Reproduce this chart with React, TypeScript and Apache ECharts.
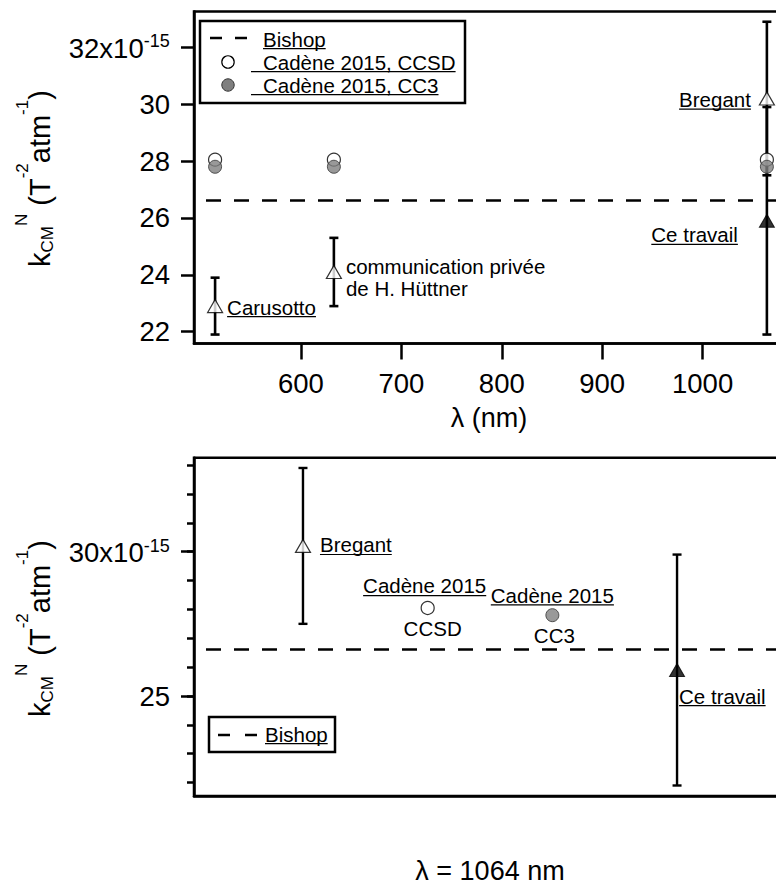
import React, { useEffect, useRef } from 'react';
import * as echarts from 'echarts';

const FONT = '"Liberation Sans", Arial, Helvetica, sans-serif';

// ---------- Top panel : k_CM^N versus wavelength (values in 1e-15 T^-2 atm^-1) ----------
const topXTicks = [600, 700, 800, 900, 1000];
const topYTicks = [22, 24, 26, 28, 30, 32];
const cadeneWavelengths = [514.5, 632.8, 1064];
const cadeneCCSD = [28.05, 28.05, 28.05];
const cadeneCC3 = [27.8, 27.8, 27.8];
// open triangles : Carusotto, Hüttner, Bregant
const openTriWavelengths = [514.5, 632.8, 1064];
const openTriValues = [22.9, 24.1, 30.2];
const openTriErrors = [1.0, 1.2, 2.7];
// filled triangle : Ce travail
const ceTravailWavelengths = [1064];
const ceTravailValues = [25.9];
const ceTravailErrors = [4.0];
const bishopValue = 26.63;
const topLabelTexts = ['Carusotto', 'communication privée\nde H. Hüttner', 'Bregant', 'Ce travail'];

// ---------- Bottom panel : λ = 1064 nm ----------
const bottomNames = ['Bregant', 'Cadène 2015 CCSD', 'Cadène 2015 CC3', 'Ce travail'];
const bottomPositions = [1, 2, 3, 4];
const bottomValues = [30.2, 28.05, 27.8, 25.9];
const bottomErrors = [2.7, 0, 0, 4.0];
const bottomMajorTicks = [25, 30];
const bottomMinorTicks = [22, 23, 24, 25, 26, 27, 28, 29, 30, 31, 32, 33];
const bottomLabelTexts = ['Bregant', 'Cadène 2015', 'CCSD', 'Cadène 2015', 'CC3', 'Ce travail'];
const bottomLabelPoint = [0, 1, 1, 2, 2, 3];

// ---------- layout / style ----------
const TOP_X = [493.5, 1091];
const TOP_Y = [21.585, 33.26];
const BOT_X = [0.126, 4.938];
const BOT_Y = [21.536, 33.256];
const ANN = 20.5;
const TICKF = 27.5;

const topLabelLayout = [
  { dx: 12, dy: 1, align: 'left', u: true },
  { dx: 12, dy: 6, align: 'left', u: false },
  { dx: -16, dy: 1, align: 'right', u: true },
  { dx: -29, dy: 14, align: 'right', u: true },
];
const bottomLabelLayout = [
  { dx: 17, dy: -1, align: 'left', u: true },
  { dx: -3, dy: -22, align: 'center', u: true },
  { dx: 5, dy: 21, align: 'center', u: false },
  { dx: 0, dy: -20, align: 'center', u: true },
  { dx: 2, dy: 20, align: 'center', u: false },
  { dx: 2, dy: 26, align: 'left', u: true },
];

let ctx: CanvasRenderingContext2D | null = null;
function measure(t: string, size: number): number {
  if (!ctx) ctx = document.createElement('canvas').getContext('2d');
  if (!ctx) return t.length * size * 0.55;
  ctx.font = `${size}px "Liberation Sans"`;
  return ctx.measureText(t).width;
}

function errorBarSeries(xi: number, yi: number, data: number[][], width: number) {
  return {
    type: 'custom',
    xAxisIndex: xi,
    yAxisIndex: yi,
    data,
    z: 3,
    silent: true,
    encode: { x: 0, y: [1, 2] },
    renderItem: (params: any, api: any) => {
      const x = api.value(0);
      const a = api.coord([x, api.value(1)]);
      const b = api.coord([x, api.value(2)]);
      const c = 4.5;
      const st = { stroke: '#000', lineWidth: width };
      return {
        type: 'group',
        children: [
          { type: 'line', shape: { x1: a[0], y1: a[1], x2: b[0], y2: b[1] }, style: st },
          { type: 'line', shape: { x1: a[0] - c, y1: a[1], x2: a[0] + c, y2: a[1] }, style: st },
          { type: 'line', shape: { x1: b[0] - c, y1: b[1], x2: b[0] + c, y2: b[1] }, style: st },
        ],
      };
    },
  };
}

function annotationSeries(xi: number, yi: number, anchors: number[][], texts: string[], layout: any[]) {
  return {
    type: 'custom',
    xAxisIndex: xi,
    yAxisIndex: yi,
    data: anchors,
    z: 6,
    silent: true,
    clip: false,
    renderItem: (params: any, api: any) => {
      const i = params.dataIndex;
      const L = layout[i];
      const txt = texts[i];
      const p = api.coord([api.value(0), api.value(1)]);
      const x = p[0] + L.dx;
      const y = p[1] + L.dy;
      const children: any[] = [
        {
          type: 'text',
          x,
          y,
          style: {
            text: txt,
            fontSize: ANN,
            fontFamily: FONT,
            fill: '#000',
            align: L.align,
            verticalAlign: 'middle',
            lineHeight: 22,
          },
        },
      ];
      if (L.u) {
        const w = measure(txt, ANN);
        const x1 = L.align === 'left' ? x : L.align === 'right' ? x - w : x - w / 2;
        const uy = y + 0.3465 * ANN + 2.5;
        children.push({
          type: 'line',
          shape: { x1, y1: uy, x2: x1 + w, y2: uy },
          style: { stroke: '#000', lineWidth: 1.2 },
        });
      }
      return { type: 'group', children };
    },
  };
}

function yTitle(x0: number, y0: number) {
  const F = 29;
  const S = 17;
  const toks = [
    { t: 'k', f: F, b: 0 },
    { t: 'CM', f: S, b: 3 },
    { t: 'N', f: S, b: -23 },
    { t: ' (', f: F, b: 0 },
    { t: 'T', f: F, b: 0 },
    { t: '-2', f: S, b: -22 },
    { t: 'atm', f: F, b: 0 },
    { t: '-1', f: S, b: -22 },
    { t: ')', f: F, b: 0 },
  ];
  let cx = 0;
  const children: any[] = [];
  for (const tk of toks) {
    children.push({
      type: 'text',
      x: cx,
      y: tk.b - 0.3465 * tk.f,
      style: { text: tk.t, fontSize: tk.f, fontFamily: FONT, fill: '#000', align: 'left', verticalAlign: 'middle' },
    });
    cx += measure(tk.t, tk.f);
  }
  return { type: 'group', x: x0, y: y0, rotation: Math.PI / 2, children, z: 50 };
}

function underlinedText(x: number, cy: number, text: string, ulStart?: number) {
  const w = measure(text, ANN);
  const uy = cy + 0.3465 * ANN + 2.5;
  return [
    { type: 'text', x, y: cy, style: { text, fontSize: ANN, fontFamily: FONT, fill: '#000', align: 'left', verticalAlign: 'middle' } },
    { type: 'line', shape: { x1: ulStart ?? x, y1: uy, x2: x + w, y2: uy }, style: { stroke: '#000', lineWidth: 1.2 } },
  ];
}

const sciRich = {
  m: { fontSize: TICKF, fontFamily: FONT, color: '#000', lineHeight: 16, verticalAlign: 'bottom' },
  s: { fontSize: 18, fontFamily: FONT, color: '#000', lineHeight: 12, verticalAlign: 'top' },
  z: { fontSize: 1, lineHeight: 30 },
};

function sciFormatter(at: number) {
  return (v: number) => (v === at ? `{m|${v}x10}{s|-15}{z| }` : String(v));
}

function buildOption() {
  const zip = (xs: number[], ys: number[]) => xs.map((x, i) => [x, ys[i]]);

  const topErr = [
    ...openTriWavelengths.map((x, i) => [x, openTriValues[i] - openTriErrors[i], openTriValues[i] + openTriErrors[i]]),
    ...ceTravailWavelengths.map((x, i) => [x, ceTravailValues[i] - ceTravailErrors[i], ceTravailValues[i] + ceTravailErrors[i]]),
  ];
  const topAnchors = [
    [openTriWavelengths[0], openTriValues[0]],
    [openTriWavelengths[1], openTriValues[1]],
    [openTriWavelengths[2], openTriValues[2]],
    [ceTravailWavelengths[0], ceTravailValues[0]],
  ];
  const botErr = bottomPositions
    .map((x, i) => [x, bottomValues[i] - bottomErrors[i], bottomValues[i] + bottomErrors[i]])
    .filter((d, i) => bottomErrors[i] > 0);
  const botAnchors = bottomLabelPoint.map((k) => [bottomPositions[k], bottomValues[k]]);

  const tickStyle = { color: '#000', width: 2.5 };
  const axisLine = { show: true, lineStyle: { color: '#000', width: 2.5 } };
  const bishopLine = {
    silent: true,
    symbol: ['none', 'none'],
    label: { show: false },
    lineStyle: { color: '#000', type: [15, 13], width: 2.5, dashOffset: 16 },
    emphasis: { disabled: true },
    data: [{ yAxis: bishopValue }],
  };

  const openTri = { symbol: 'triangle', symbolSize: [15, 13], itemStyle: { color: '#fff', borderColor: '#000', borderWidth: 1.2 } };
  const fullTri = { symbol: 'triangle', symbolSize: [15, 13], itemStyle: { color: '#000', borderColor: '#000', borderWidth: 1 } };
  const openCirc = { symbol: 'circle', symbolSize: 13, itemStyle: { color: '#fff', borderColor: '#000', borderWidth: 1.2 } };
  const grayCirc = { symbol: 'circle', symbolSize: 13, itemStyle: { color: '#7f7f7f', borderColor: '#333', borderWidth: 1 } };

  return {
    animation: false,
    backgroundColor: '#fff',
    grid: [
      { left: 194, top: 11.5, width: 600, height: 332, show: true, borderColor: '#000', borderWidth: 2.5, backgroundColor: 'transparent' },
      { left: 194, top: 457.7, width: 600, height: 338.3, show: true, borderColor: '#000', borderWidth: 2.5, backgroundColor: 'transparent' },
    ],
    xAxis: [
      {
        gridIndex: 0,
        type: 'value',
        min: TOP_X[0],
        max: TOP_X[1],
        axisLine,
        splitLine: { show: false },
        axisTick: { show: true, customValues: topXTicks, length: 16, lineStyle: tickStyle },
        axisLabel: {
          show: true,
          customValues: topXTicks,
          margin: 26,
          color: '#000',
          fontSize: TICKF,
          fontFamily: FONT,
          formatter: (v: number) => String(v),
        },
      },
      {
        gridIndex: 1,
        type: 'value',
        min: BOT_X[0],
        max: BOT_X[1],
        axisLine,
        splitLine: { show: false },
        axisTick: { show: false },
        axisLabel: { show: false },
      },
    ],
    yAxis: [
      {
        gridIndex: 0,
        type: 'value',
        min: TOP_Y[0],
        max: TOP_Y[1],
        axisLine,
        splitLine: { show: false },
        axisTick: { show: true, customValues: topYTicks, length: 13, lineStyle: tickStyle },
        axisLabel: {
          show: true,
          customValues: topYTicks,
          margin: 24,
          color: '#000',
          fontSize: TICKF,
          fontFamily: FONT,
          formatter: sciFormatter(32),
          rich: sciRich,
        },
      },
      {
        gridIndex: 1,
        type: 'value',
        min: BOT_Y[0],
        max: BOT_Y[1],
        axisLine,
        splitLine: { show: false },
        axisTick: { show: true, customValues: bottomMajorTicks, length: 13, lineStyle: tickStyle },
        axisLabel: {
          show: true,
          customValues: bottomMajorTicks,
          margin: 24,
          color: '#000',
          fontSize: TICKF,
          fontFamily: FONT,
          formatter: sciFormatter(30),
          rich: sciRich,
        },
      },
      {
        gridIndex: 1,
        type: 'value',
        min: BOT_Y[0],
        max: BOT_Y[1],
        position: 'left',
        axisLine: { show: false },
        splitLine: { show: false },
        axisTick: { show: true, customValues: bottomMinorTicks, length: 7, lineStyle: tickStyle },
        axisLabel: { show: false },
      },
    ],
    series: [
      errorBarSeries(0, 0, topErr, 2.6),
      {
        type: 'scatter', name: 'Cadène 2015, CCSD', xAxisIndex: 0, yAxisIndex: 0,
        data: zip(cadeneWavelengths, cadeneCCSD), z: 4, silent: true, ...openCirc,
        markLine: bishopLine,
      },
      { type: 'scatter', name: 'Cadène 2015, CC3', xAxisIndex: 0, yAxisIndex: 0, data: zip(cadeneWavelengths, cadeneCC3), z: 4, silent: true, ...grayCirc },
      { type: 'scatter', name: 'references', xAxisIndex: 0, yAxisIndex: 0, data: zip(openTriWavelengths, openTriValues), z: 5, silent: true, ...openTri },
      { type: 'scatter', name: 'Ce travail', xAxisIndex: 0, yAxisIndex: 0, data: zip(ceTravailWavelengths, ceTravailValues), z: 5, silent: true, ...fullTri },
      annotationSeries(0, 0, topAnchors, topLabelTexts, topLabelLayout),

      errorBarSeries(1, 1, botErr, 2.4),
      {
        type: 'scatter', name: bottomNames[0], xAxisIndex: 1, yAxisIndex: 1,
        data: [[bottomPositions[0], bottomValues[0]]], z: 5, silent: true, ...openTri,
        markLine: bishopLine,
      },
      { type: 'scatter', name: bottomNames[1], xAxisIndex: 1, yAxisIndex: 1, data: [[bottomPositions[1], bottomValues[1]]], z: 5, silent: true, ...openCirc },
      { type: 'scatter', name: bottomNames[2], xAxisIndex: 1, yAxisIndex: 1, data: [[bottomPositions[2], bottomValues[2]]], z: 5, silent: true, ...grayCirc },
      { type: 'scatter', name: bottomNames[3], xAxisIndex: 1, yAxisIndex: 1, data: [[bottomPositions[3], bottomValues[3]]], z: 5, silent: true, ...fullTri },
      annotationSeries(1, 1, botAnchors, bottomLabelTexts, bottomLabelLayout),
    ],
    graphic: [
      yTitle(50, 267),
      yTitle(50, 717),
      {
        type: 'text', x: 489, y: 418, z: 50,
        style: { text: 'λ (nm)', fontSize: 27, fontFamily: FONT, fill: '#000', align: 'center', verticalAlign: 'middle' },
      },
      {
        type: 'text', x: 490, y: 871, z: 50,
        style: { text: 'λ = 1064 nm', fontSize: 27, fontFamily: FONT, fill: '#000', align: 'center', verticalAlign: 'middle' },
      },
      {
        type: 'group', z: 100,
        children: [
          { type: 'rect', shape: { x: 200, y: 21, width: 265, height: 82 }, style: { fill: '#fff', stroke: '#000', lineWidth: 2.5 } },
          { type: 'line', shape: { x1: 210, y1: 38, x2: 248, y2: 38 }, style: { stroke: '#000', lineWidth: 2.5, lineDash: [12, 13] } },
          ...underlinedText(263, 39, 'Bishop'),
          { type: 'circle', shape: { cx: 228, cy: 62, r: 6.2 }, style: { fill: '#fff', stroke: '#000', lineWidth: 1.2 } },
          ...underlinedText(263, 62, 'Cadène 2015, CCSD', 251),
          { type: 'circle', shape: { cx: 228, cy: 85, r: 6.2 }, style: { fill: '#7f7f7f', stroke: '#333', lineWidth: 1 } },
          ...underlinedText(263, 85, 'Cadène 2015, CC3', 251),
        ],
      },
      {
        type: 'group', z: 100,
        children: [
          { type: 'rect', shape: { x: 209, y: 717, width: 126, height: 35 }, style: { fill: '#fff', stroke: '#000', lineWidth: 2.5 } },
          { type: 'line', shape: { x1: 218, y1: 735, x2: 257, y2: 735 }, style: { stroke: '#000', lineWidth: 2.5, lineDash: [12, 15] } },
          ...underlinedText(265, 734, 'Bishop'),
        ],
      },
    ],
  };
}

export default function App() {
  const ref = useRef<HTMLDivElement>(null);
  useEffect(() => {
    if (!ref.current) return;
    const chart = echarts.init(ref.current, null, { renderer: 'svg' });
    chart.setOption(buildOption() as any);
    return () => chart.dispose();
  }, []);
  return (
    <div style={{ position: 'fixed', left: 0, top: 0, width: 776, height: 887, overflow: 'hidden', background: '#fff' }}>
      <div ref={ref} style={{ width: 830, height: 887 }} />
    </div>
  );
}
